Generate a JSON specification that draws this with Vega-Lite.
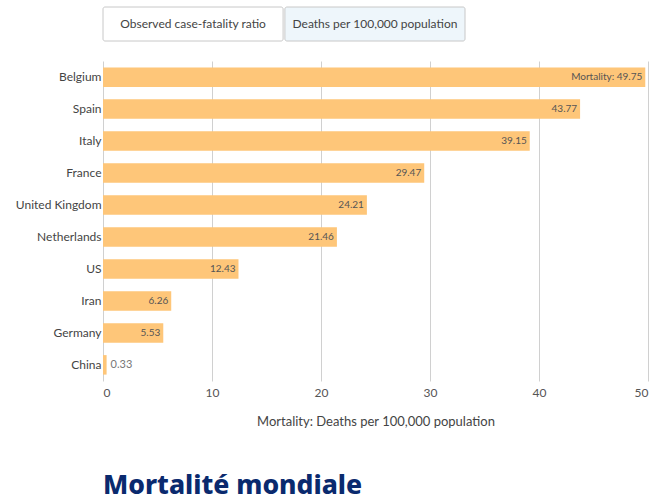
{
  "$schema": "https://vega.github.io/schema/vega-lite/v6.json",
  "padding": {"top": 6, "left": 15, "right": 5, "bottom": 5},
  "background": "white",
  "config": {
    "font": "Lato",
    "view": {"stroke": null}
  },
  "spacing": 19,
  "vconcat": [
    {
      "width": 362,
      "height": 34,
      "data": {"values": [
        {"button": "Observed case-fatality ratio", "active": "no"},
        {"button": "Deaths per 100,000 population", "active": "yes"}
      ]},
      "encoding": {
        "x": {"field": "button", "type": "nominal", "sort": null, "axis": null,
              "scale": {"paddingInner": 0.01, "paddingOuter": 0}}
      },
      "layer": [
        {"mark": {"type": "rect", "stroke": "#c8c8c8", "strokeWidth": 1, "cornerRadius": 2},
         "encoding": {"fill": {"field": "active", "type": "nominal", "legend": null,
           "scale": {"domain": ["no", "yes"], "range": ["#ffffff", "#eef6fb"]}}}},
        {"mark": {"type": "text", "fontSize": 12, "color": "#444444"},
         "encoding": {"text": {"field": "button"}}}
      ]
    },
    {
      "width": 545,
      "height": 320,
      "data": {"values": [
        {"country": "Belgium", "mortality": 49.75, "label": "Mortality: 49.75"},
        {"country": "Spain", "mortality": 43.77, "label": "43.77"},
        {"country": "Italy", "mortality": 39.15, "label": "39.15"},
        {"country": "France", "mortality": 29.47, "label": "29.47"},
        {"country": "United Kingdom", "mortality": 24.21, "label": "24.21"},
        {"country": "Netherlands", "mortality": 21.46, "label": "21.46"},
        {"country": "US", "mortality": 12.43, "label": "12.43"},
        {"country": "Iran", "mortality": 6.26, "label": "6.26"},
        {"country": "Germany", "mortality": 5.53, "label": "5.53"},
        {"country": "China", "mortality": 0.33, "label": "0.33"}
      ]},
      "title": {
        "text": "Mortalité mondiale",
        "orient": "bottom",
        "anchor": "start",
        "frame": "group",
        "fontSize": 26.5,
        "fontWeight": 800,
        "font": "Noto Sans",
        "color": "#0a2a6e",
        "offset": 45
      },
      "encoding": {
        "y": {"field": "country", "type": "nominal", "sort": null,
              "scale": {"paddingInner": 0.39, "paddingOuter": 0.2},
              "axis": {"title": null, "ticks": false, "domain": false, "labelFontSize": 12,
                       "labelColor": "#444444", "labelPadding": 2}}
      },
      "layer": [
        {"mark": {"type": "bar", "color": "#fec679"},
         "encoding": {
           "x": {"field": "mortality", "type": "quantitative",
                 "scale": {"domain": [0, 50]},
                 "axis": {"title": "Mortality: Deaths per 100,000 population", "values": [0,10,20,30,40,50],
                          "ticks": false, "domain": false, "gridColor": "#d0d0d0",
                          "labelFontSize": 12, "labelColor": "#555555", "labelPadding": 6,
                          "titleFontSize": 13, "titleFontWeight": "normal", "titleColor": "#444444",
                          "titlePadding": 17}}
         }},
        {"transform": [{"filter": "datum.mortality > 1"}],
         "mark": {"type": "text", "align": "right", "dx": -3, "fontSize": 10, "color": "#555555"},
         "encoding": {"x": {"field": "mortality", "type": "quantitative"}, "text": {"field": "label"}}},
        {"transform": [{"filter": "datum.mortality <= 1"}],
         "mark": {"type": "text", "align": "left", "dx": 4, "fontSize": 11, "color": "#777777"},
         "encoding": {"x": {"field": "mortality", "type": "quantitative"}, "text": {"field": "label"}}}
      ]
    }
  ]
}
